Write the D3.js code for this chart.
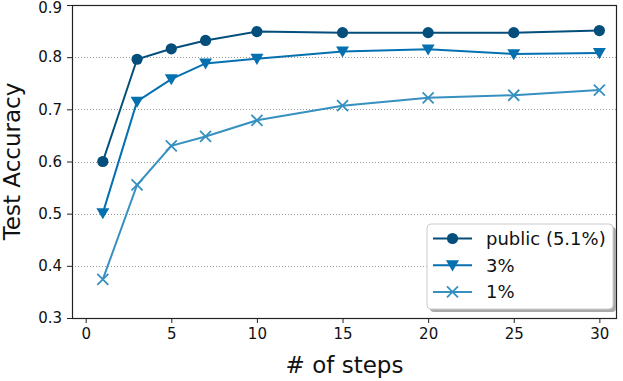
<!DOCTYPE html>
<html><head><meta charset="utf-8">
<script src="https://cdn.jsdelivr.net/npm/d3@7"></script>
<style>body{margin:0;background:#fff}svg{display:block;font-family:"DejaVu Sans",sans-serif}</style>
</head><body><svg id="c" width="623" height="381"></svg>
<script>
const steps = [1, 3, 5, 7, 10, 15, 20, 25, 30];
const publicAcc = [0.600, 0.796, 0.816, 0.832, 0.849, 0.847, 0.847, 0.847, 0.851];
const acc3 = [0.501, 0.715, 0.758, 0.788, 0.797, 0.811, 0.815, 0.806, 0.808];
const acc1 = [0.374, 0.555, 0.630, 0.648, 0.679, 0.707, 0.722, 0.727, 0.737];
const seriesNames = ["public (5.1%)", "3%", "1%"];
const seriesColors = ["#034e7b", "#0570b0", "#3690c0"];
const seriesMarkers = ["circle", "triangle", "x"];
const xTicks = [0, 5, 10, 15, 20, 25, 30];
const yTicks = [0.3, 0.4, 0.5, 0.6, 0.7, 0.8, 0.9];

const svg = d3.select("#c");
const L = 72, R = 617, T = 5, B = 318;
const x = d3.scaleLinear().domain([-0.8, 31.03]).range([L, R]);
const y = d3.scaleLinear().domain([0.3, 0.9]).range([B, T]);

// grid
svg.append("g").selectAll("line").data(yTicks.filter(v => v > 0.3 && v < 0.9)).join("line")
  .attr("x1", L).attr("x2", R).attr("y1", d => Math.round(y(d)) + 0.5).attr("y2", d => Math.round(y(d)) + 0.5)
  .attr("stroke", "#999").attr("stroke-width", 1).attr("stroke-dasharray", "1,2");

// axes
const xAxis = d3.axisBottom(x).tickValues(xTicks).tickSize(5).tickPadding(5).tickFormat(d3.format("d"));
const yAxis = d3.axisLeft(y).tickValues(yTicks).tickSize(5).tickPadding(5).tickFormat(d3.format(".1f"));
const gx = svg.append("g").attr("transform", `translate(0,${B})`).call(xAxis);
const gy = svg.append("g").attr("transform", `translate(${L},0)`).call(yAxis);
[gx, gy].forEach(g => {
  g.select(".domain").remove();
  g.selectAll(".tick line").attr("stroke", "#222");
  g.selectAll(".tick text").attr("font-size", 15).attr("fill", "#111").attr("font-family", "DejaVu Sans");
});
gy.selectAll(".tick text").filter(d => d === 0.9).attr("dy", "0.38em").attr("y", 1.5);

// frame
svg.append("rect").attr("x", L + 0.5).attr("y", T + 0.5).attr("width", R - L - 1).attr("height", B - T)
  .attr("fill", "none").attr("stroke", "#222").attr("stroke-width", 1.2);

const data = [publicAcc, acc3, acc1];
const line = d3.line().x((d, i) => x(steps[i])).y(d => y(d));

function drawMarker(g, type, cx, cy, color) {
  if (type === "circle") {
    g.append("circle").attr("cx", cx).attr("cy", cy).attr("r", 5.6).attr("fill", color);
  } else if (type === "triangle") {
    const s = 6.5;
    g.append("path").attr("d", `M${cx - s},${cy - s * 0.75}L${cx + s},${cy - s * 0.75}L${cx},${cy + s * 0.95}Z`).attr("fill", color);
  } else {
    const s = 5.5;
    g.append("path").attr("d", `M${cx - s},${cy - s}L${cx + s},${cy + s}M${cx - s},${cy + s}L${cx + s},${cy - s}`)
      .attr("stroke", color).attr("stroke-width", 1.8).attr("fill", "none");
  }
}

data.forEach((vals, k) => {
  const g = svg.append("g");
  g.append("path").attr("d", line(vals)).attr("fill", "none").attr("stroke", seriesColors[k]).attr("stroke-width", 2);
  vals.forEach((v, i) => drawMarker(g, seriesMarkers[k], x(steps[i]), y(v), seriesColors[k]));
});

// labels
svg.append("text").attr("x", (L + R) / 2).attr("y", 373).attr("text-anchor", "middle")
  .attr("font-size", 23).attr("fill", "#111").text("# of steps");
svg.append("text").attr("transform", `translate(19.5,${(T + B) / 2}) rotate(-90)`).attr("text-anchor", "middle")
  .attr("font-size", 23).attr("fill", "#111").text("Test Accuracy");

// legend
const lg = svg.append("g");
const lx = 427, ly = 224, lw = 186, lh = 85;
lg.append("rect").attr("x", lx + 3).attr("y", ly + 3).attr("width", lw).attr("height", lh).attr("rx", 4).attr("fill", "#aaa");
lg.append("rect").attr("x", lx).attr("y", ly).attr("width", lw).attr("height", lh).attr("rx", 4)
  .attr("fill", "#fff").attr("stroke", "#ccc").attr("stroke-width", 1);
seriesNames.forEach((name, k) => {
  const yy = ly + 14.5 + k * 26.7;
  lg.append("line").attr("x1", lx + 6).attr("x2", lx + 45).attr("y1", yy).attr("y2", yy)
    .attr("stroke", seriesColors[k]).attr("stroke-width", 2);
  drawMarker(lg, seriesMarkers[k], lx + 25.5, yy, seriesColors[k]);
  lg.append("text").attr("x", lx + 59).attr("y", yy + 6.5).attr("font-size", 18).attr("fill", "#111").text(name);
});
</script></body></html>
